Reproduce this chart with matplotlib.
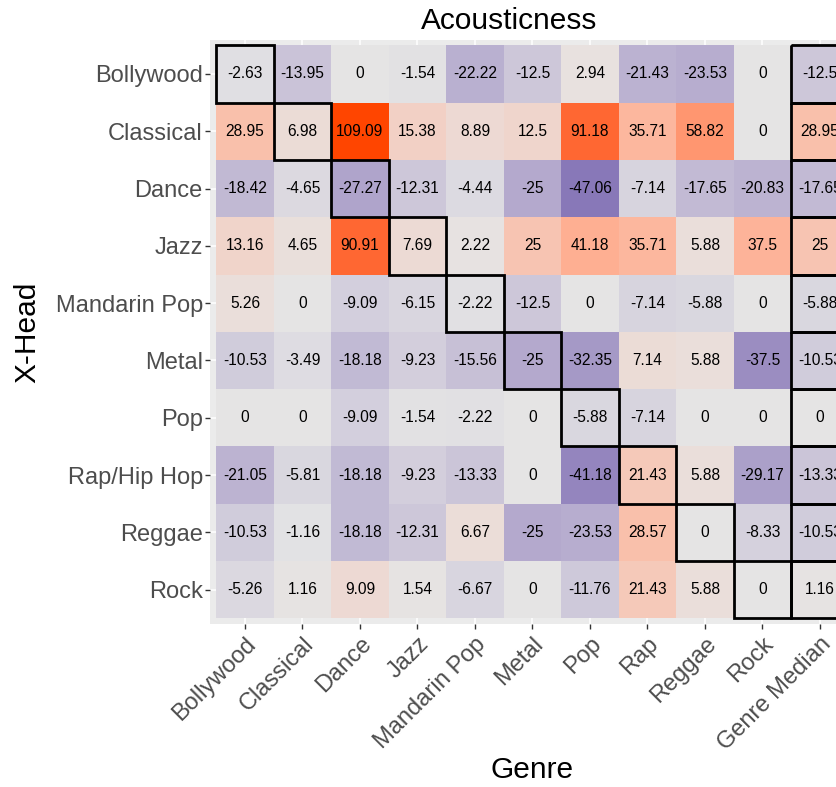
import numpy as np
import matplotlib
matplotlib.use("Agg")
import matplotlib.pyplot as plt
from matplotlib.colors import ListedColormap, TwoSlopeNorm, to_rgb
from matplotlib.patches import Rectangle

plt.rcParams['font.family'] = ['Liberation Sans', 'DejaVu Sans']

genres = ["Bollywood", "Classical", "Dance", "Jazz", "Mandarin Pop", "Metal",
          "Pop", "Rap", "Reggae", "Rock", "Genre Median"]
heads = ["Bollywood", "Classical", "Dance", "Jazz", "Mandarin Pop", "Metal",
         "Pop", "Rap/Hip Hop", "Reggae", "Rock"]

bollywood = [-2.63, -13.95, 0, -1.54, -22.22, -12.5, 2.94, -21.43, -23.53, 0, -12.5]
classical = [28.95, 6.98, 109.09, 15.38, 8.89, 12.5, 91.18, 35.71, 58.82, 0, 28.95]
dance = [-18.42, -4.65, -27.27, -12.31, -4.44, -25, -47.06, -7.14, -17.65, -20.83, -17.65]
jazz = [13.16, 4.65, 90.91, 7.69, 2.22, 25, 41.18, 35.71, 5.88, 37.5, 25]
mandarin_pop = [5.26, 0, -9.09, -6.15, -2.22, -12.5, 0, -7.14, -5.88, 0, -5.88]
metal = [-10.53, -3.49, -18.18, -9.23, -15.56, -25, -32.35, 7.14, 5.88, -37.5, -10.53]
pop = [0, 0, -9.09, -1.54, -2.22, 0, -5.88, -7.14, 0, 0, 0]
rap_hiphop = [-21.05, -5.81, -18.18, -9.23, -13.33, 0, -41.18, 21.43, 5.88, -29.17, -13.33]
reggae = [-10.53, -1.16, -18.18, -12.31, 6.67, -25, -23.53, 28.57, 0, -8.33, -10.53]
rock = [-5.26, 1.16, 9.09, 1.54, -6.67, 0, -11.76, 21.43, 5.88, 0, 1.16]

values = np.array([bollywood, classical, dance, jazz, mandarin_pop, metal,
                   pop, rap_hiphop, reggae, rock], dtype=float)

diag_cols = [0, 1, 2, 3, 4, 5, 6, 7, 8, 9]

# ---- Lab interpolated diverging colormap (like ggplot gradient2) ----
def srgb_to_lab(c):
    c = np.asarray(c, float)
    lin = np.where(c <= 0.04045, c / 12.92, ((c + 0.055) / 1.055) ** 2.4)
    M = np.array([[0.4124, 0.3576, 0.1805],
                  [0.2126, 0.7152, 0.0722],
                  [0.0193, 0.1192, 0.9505]])
    xyz = M @ lin / np.array([0.95047, 1.0, 1.08883])
    f = np.where(xyz > 0.008856, np.cbrt(xyz), 7.787 * xyz + 16 / 116)
    return np.array([116 * f[1] - 16, 500 * (f[0] - f[1]), 200 * (f[1] - f[2])])

def lab_to_srgb(lab):
    L, a, b = lab
    fy = (L + 16) / 116
    fx = fy + a / 500
    fz = fy - b / 200
    f = np.array([fx, fy, fz])
    xyz = np.where(f ** 3 > 0.008856, f ** 3, (f - 16 / 116) / 7.787)
    xyz = xyz * np.array([0.95047, 1.0, 1.08883])
    Minv = np.array([[3.2406, -1.5372, -0.4986],
                     [-0.9689, 1.8758, 0.0415],
                     [0.0557, -0.2040, 1.0570]])
    lin = Minv @ xyz
    lin = np.clip(lin, 0, 1)
    c = np.where(lin <= 0.0031308, 12.92 * lin, 1.055 * lin ** (1 / 2.4) - 0.055)
    return np.clip(c, 0, 1)

low_c, mid_c, high_c = "#8474b6", "#e5e5e5", "#ff4500"
lab_low, lab_mid, lab_high = (srgb_to_lab(to_rgb(c)) for c in (low_c, mid_c, high_c))
cols = []
for t in np.linspace(0, 1, 256):
    if t < 0.5:
        s = t / 0.5
        lab = lab_low * (1 - s) + lab_mid * s
    else:
        s = (t - 0.5) / 0.5
        lab = lab_mid * (1 - s) + lab_high * s
    cols.append(lab_to_srgb(lab))
cmap = ListedColormap(cols)
norm = TwoSlopeNorm(vmin=-49, vcenter=0, vmax=109.09)

fig = plt.figure(figsize=(8.37, 7.87), dpi=100)
W, H = 837, 787
x0, x1 = 210.5, 854.5
y0, y1 = 39.6, 624.0
ax = fig.add_axes([x0 / W, 1 - y1 / H, (x1 - x0) / W, (y1 - y0) / H])
ax.set_facecolor("#ebebeb")

nr, nc = values.shape
xe = np.arange(nc + 1) + 0.5
ye = np.arange(nr + 1) + 0.5
ax.pcolormesh(xe, ye, values, cmap=cmap, norm=norm, zorder=2)

ax.set_xlim(0.4, nc + 0.6)
ax.set_ylim(nr + 0.6, 0.4)
ax.set_xticks(np.arange(1, nc + 1))
ax.set_yticks(np.arange(1, nr + 1))
ax.set_xticklabels(genres, rotation=45, ha="right", va="top",
                   rotation_mode="anchor", fontsize=17, color="#4d4d4d")
ax.set_yticklabels(heads, fontsize=17, color="#4d4d4d")
ax.tick_params(axis="both", length=3.5, width=1.0, color="#333333", pad=2)
ax.tick_params(axis="x", pad=3)
ax.grid(True, color="white", linewidth=1.1, zorder=0)
ax.set_axisbelow(True)
for s in ax.spines.values():
    s.set_visible(False)

for i in range(nr):
    for j in range(nc):
        v = values[i, j]
        ax.text(j + 1, i + 1, f"{v:g}", ha="center", va="center",
                fontsize=11.2, color="black", zorder=4, clip_on=False)

for i, j in enumerate(diag_cols):
    ax.add_patch(Rectangle((j + 0.5, i + 0.5), 1, 1, fill=False,
                           edgecolor="black", linewidth=2.0, zorder=5))
for i in range(nr):
    ax.add_patch(Rectangle((nc - 0.5, i + 0.5), 1, 1, fill=False,
                           edgecolor="black", linewidth=2.0, zorder=5))

fig.text(509 / W, 1 - 21 / H, "Acousticness", ha="center", va="center",
         fontsize=21.5, color="black")
fig.text(532 / W, 1 - 770 / H, "Genre", ha="center", va="center",
         fontsize=21.5, color="black")
fig.text(27 / W, 1 - 332 / H, "X-Head", ha="center", va="center",
         rotation=90, fontsize=21.5, color="black")

fig.savefig("out.png", dpi=100)
